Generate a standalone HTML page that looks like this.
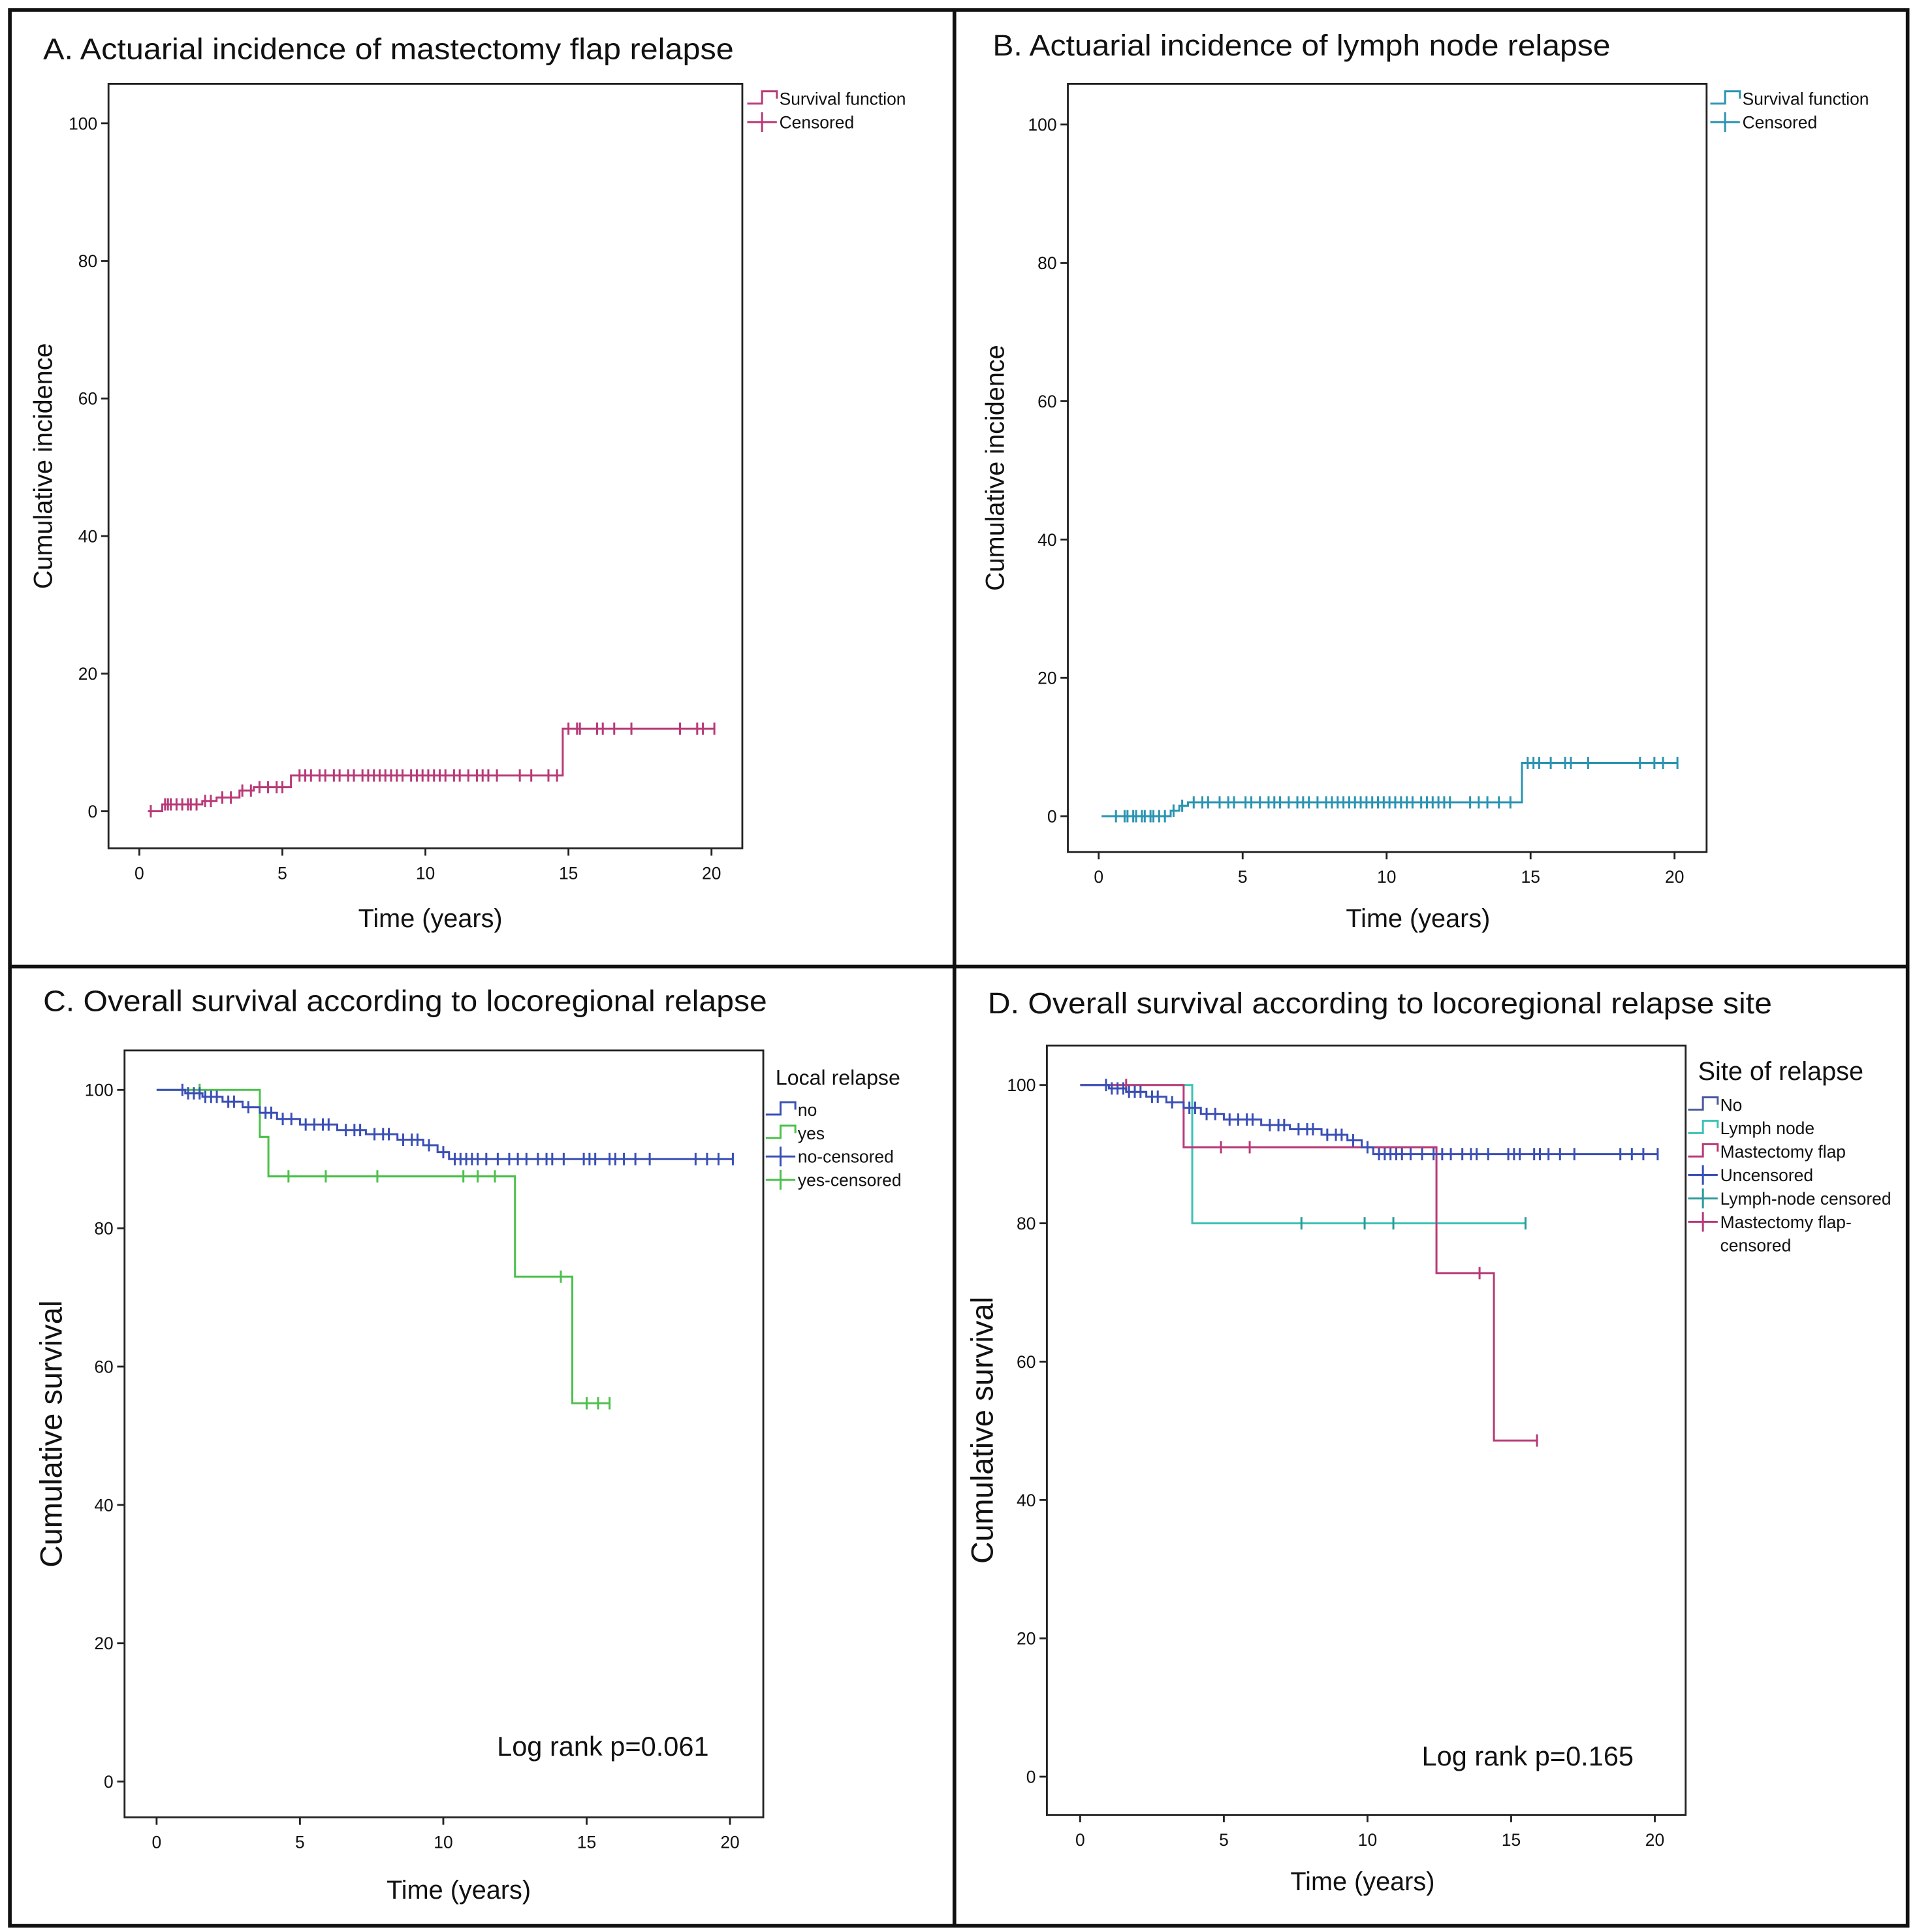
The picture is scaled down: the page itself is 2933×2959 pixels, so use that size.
<!DOCTYPE html>
<html><head><meta charset="utf-8"><style>
html,body{margin:0;padding:0;background:#fff}
svg{display:block}
text{font-family:"Liberation Sans",sans-serif;fill:#111}
</style></head><body>
<svg id="s" width="2933" height="2959" viewBox="0 0 1553 1567" preserveAspectRatio="none" xmlns="http://www.w3.org/2000/svg">
<rect x="0" y="0" width="1553" height="1567" fill="#fff"/>
<rect x="8" y="8" width="1539" height="1554" fill="none" stroke="#111" stroke-width="3"/>
<line x1="774" y1="8" x2="774" y2="1562" stroke="#111" stroke-width="3"/>
<line x1="8" y1="784" x2="1547" y2="784" stroke="#111" stroke-width="3"/>
<g id="root"></g>
</svg>
<script>
// Panel A: mastectomy flap relapse cumulative incidence
const aStepT=[0.3,0.8,1.2,2.2,2.7,3.5,4.0,5.3,14.8];
const aStepV=[0,1,1,1.5,2,3,3.5,5.2,12];
const aEnd=20.1;
const aCens=[0.4,0.9,1.0,1.1,1.3,1.5,1.7,1.8,2.0,2.3,2.5,2.9,3.2,3.6,3.9,4.2,4.5,4.8,5.0,5.6,5.8,6.0,6.3,6.5,6.8,7.0,7.3,7.5,7.8,8.0,8.2,8.4,8.6,8.8,9.0,9.2,9.5,9.7,9.9,10.1,10.3,10.5,10.7,11.0,11.2,11.5,11.8,12.0,12.2,12.5,13.3,13.7,14.3,14.6,15.0,15.3,15.4,16.0,16.2,16.6,17.2,18.9,19.5,19.7,20.1];
// Panel B: lymph node relapse
const bStepT=[0.1,2.5,2.8,3.1,14.7];
const bStepV=[0,0.8,1.5,2,7.7];
const bEnd=20.1;
const bCens=[0.6,0.9,1.0,1.2,1.3,1.5,1.6,1.8,1.9,2.1,2.3,2.6,2.9,3.3,3.6,3.8,4.2,4.5,4.7,5.1,5.3,5.6,5.9,6.1,6.3,6.6,6.9,7.1,7.3,7.6,7.9,8.1,8.3,8.5,8.7,8.9,9.1,9.3,9.5,9.7,9.9,10.1,10.3,10.5,10.7,10.9,11.2,11.4,11.6,11.8,12.0,12.2,12.9,13.2,13.5,13.9,14.3,14.9,15.1,15.3,15.7,16.2,16.4,17.0,18.8,19.3,19.6,20.1];
// Panel C: overall survival by local relapse
const cNoT=[0,1.0,1.6,2.3,3.0,3.6,4.2,5.0,6.3,7.3,8.4,9.3,9.8,10.2];
const cNoV=[100,99.5,99,98.3,97.5,96.7,95.8,95,94.2,93.6,92.8,92,91,90];
const cNoEnd=20.1;
const cNoCens=[0.9,1.1,1.3,1.5,1.7,1.9,2.1,2.5,2.7,3.2,3.8,4.0,4.4,4.7,5.2,5.5,5.8,6.0,6.6,6.9,7.1,7.6,7.9,8.1,8.6,8.9,9.1,9.5,10.0,10.4,10.6,10.8,11.0,11.2,11.5,11.9,12.3,12.6,12.9,13.3,13.6,13.8,14.2,14.9,15.1,15.3,15.8,16.0,16.3,16.7,17.2,18.8,19.2,19.6,20.1];
const cYesT=[0,3.6,3.9,12.5,14.5];
const cYesV=[100,93.2,87.5,73,54.7];
const cYesEnd=15.8;
const cYesCens=[1.5,4.6,5.9,7.7,10.7,11.2,11.8,14.1,15.0,15.4,15.8];
// Panel D: overall survival by relapse site
const dNoT=[0,1.0,1.6,2.3,3.0,3.6,4.2,5.0,6.3,7.3,8.4,9.3,9.8,10.2];
const dNoV=[100,99.5,99,98.3,97.5,96.7,95.8,95,94.2,93.6,92.8,92,91,90];
const dNoEnd=20.1;
const dNoCens=[0.9,1.1,1.3,1.5,1.7,1.9,2.1,2.5,2.7,3.2,3.8,4.0,4.4,4.7,5.2,5.5,5.8,6.0,6.6,6.9,7.1,7.6,7.9,8.1,8.6,8.9,9.1,9.5,10.0,10.4,10.6,10.8,11.0,11.2,11.5,11.9,12.3,12.6,12.9,13.3,13.6,13.8,14.2,14.9,15.1,15.3,15.8,16.0,16.3,16.7,17.2,18.8,19.2,19.6,20.1];
const dLnT=[0,3.9];
const dLnV=[100,80];
const dLnEnd=15.5;
const dLnCens=[7.7,9.9,10.9,15.5];
const dMfT=[0,3.6,12.4,14.4];
const dMfV=[100,91,72.8,48.6];
const dMfEnd=15.9;
const dMfCens=[1.6,4.9,5.9,13.9,15.9];
const xTicks=[0,5,10,15,20];
const yTicks=[0,20,40,60,80,100];

const NS='http://www.w3.org/2000/svg';
const root=document.getElementById('root');
function el(tag,attrs,parent,txt){const e=document.createElementNS(NS,tag);for(const k in attrs)e.setAttribute(k,attrs[k]);if(txt!=null)e.textContent=txt;(parent||root).appendChild(e);return e;}

function panel(cfg){
  const g=el('g',{});
  
  
  const X=t=>cfg.x0+(cfg.x20-cfg.x0)*t/20;
  const Y=v=>cfg.y0+(cfg.y100-cfg.y0)*v/100;
  const t=el('text',{x:cfg.tx,y:cfg.ty,'font-size':24,textLength:cfg.tw,lengthAdjust:'spacingAndGlyphs'},g,cfg.title);
  
  
  const box=el('rect',{x:cfg.bx,y:cfg.by,width:cfg.bw,height:cfg.bh,fill:'none',stroke:'#222','stroke-width':1.5},g);
  
  
  yTicks.forEach(v=>{
    el('line',{x1:cfg.bx-6,x2:cfg.bx,y1:Y(v),y2:Y(v),stroke:'#222','stroke-width':1.5},g);
    const l=el('text',{x:cfg.bx-9,y:Y(v)+5,'font-size':14,'text-anchor':'end'},g,String(v));
    
    
  });
  xTicks.forEach(v=>{
    el('line',{x1:X(v),x2:X(v),y1:cfg.by+cfg.bh,y2:cfg.by+cfg.bh+6,stroke:'#222','stroke-width':1.5},g);
    const l=el('text',{x:X(v),y:cfg.by+cfg.bh+25,'font-size':14,'text-anchor':'middle'},g,String(v));
    
    
  });
  const xt=el('text',{x:cfg.xtx,y:cfg.xty,'font-size':21,'text-anchor':'middle'},g,'Time (years)');
  
  
  const yt=el('text',{x:0,y:0,'font-size':cfg.ytfs,'text-anchor':'middle',transform:`translate(${cfg.ytx},${cfg.by+cfg.bh/2}) rotate(-90)`},g,cfg.ytitle);
  
  
  cfg.series.forEach(s=>{
    let d=`M${X(s.T[0])},${Y(s.V[0])}`;
    for(let i=1;i<s.T.length;i++){d+=` H${X(s.T[i])} V${Y(s.V[i])}`;}
    d+=` H${X(s.end)}`;
    const p=el('path',{d,fill:'none',stroke:s.color,'stroke-width':1.6},g);
    
    
    s.cens.forEach(c=>{
      let v=s.V[0];for(let i=0;i<s.T.length;i++)if(s.T[i]<=c)v=s.V[i];
      const m=el('line',{x1:X(c),x2:X(c),y1:Y(v)-5,y2:Y(v)+5,stroke:s.mcolor||s.color,'stroke-width':1.6},g);
      
      
    });
  });
  if(cfg.ltitle){const lt=el('text',{x:cfg.lx+8,y:cfg.ly-20,'font-size':cfg.ltfs},g,cfg.ltitle);
    }
  cfg.legend.forEach((e,i)=>{
    const y=cfg.ly+i*cfg.lsp;
    const lg=el('g',{},g);
    
    
    if(e.type==='step')el('path',{d:`M${cfg.lx},${y+4} H${cfg.lx+12} V${y-6} H${cfg.lx+24} V${y}`,fill:'none',stroke:e.color,'stroke-width':1.6},lg);
    else{el('line',{x1:cfg.lx,x2:cfg.lx+24,y1:y,y2:y,stroke:e.color,'stroke-width':1.6},lg);el('line',{x1:cfg.lx+12,x2:cfg.lx+12,y1:y-8,y2:y+8,stroke:e.color,'stroke-width':1.6},lg);}
    el('text',{x:cfg.lx+26,y:y+5,'font-size':14},lg,e.label);
    if(e.label2)el('text',{x:cfg.lx+26,y:y+24,'font-size':14},lg,e.label2);
  });
  if(cfg.note){const n=el('text',{x:cfg.nx,y:cfg.ny,'font-size':22},g,cfg.note);
    }
}
const MAG='#b83a78',TEAL='#2a94b2',BLUE='#3a4fb5',GRN='#4cc04c',CYN='#3cc2b4';
panel({name:'panel-a',title:'A. Actuarial incidence of mastectomy flap relapse',tw:560,tx:35,ty:48,bx:88,by:68,bw:514,bh:620,x0:113,x20:577,y0:658,y100:100,xtx:349,xty:752,ytx:42,ytfs:21,ytitle:'Cumulative incidence',
  series:[{name:'mastectomy-flap',T:aStepT,V:aStepV,end:aEnd,cens:aCens,color:MAG}],
  lx:606,ly:80,lsp:19,legend:[{type:'step',color:MAG,label:'Survival function'},{type:'cross',color:MAG,label:'Censored'}]});
panel({name:'panel-b',title:'B. Actuarial incidence of lymph node relapse',tw:501,tx:805,ty:45,bx:866,by:68,bw:518,bh:623,x0:891,x20:1358,y0:662,y100:101,xtx:1150,xty:752,ytx:814,ytfs:21,ytitle:'Cumulative incidence',
  series:[{name:'lymph-node',T:bStepT,V:bStepV,end:bEnd,cens:bCens,color:TEAL}],
  lx:1387,ly:80,lsp:19,legend:[{type:'step',color:TEAL,label:'Survival function'},{type:'cross',color:TEAL,label:'Censored'}]});
panel({name:'panel-c',title:'C. Overall survival according to locoregional relapse',tw:587,tx:35,ty:820,bx:101,by:852,bw:518,bh:622,x0:127,x20:592,y0:1445,y100:884,xtx:372,xty:1540,ytx:50,ytfs:25,ytitle:'Cumulative survival',
  series:[{name:'yes',T:cYesT,V:cYesV,end:cYesEnd,cens:cYesCens,color:GRN},{name:'no',T:cNoT,V:cNoV,end:cNoEnd,cens:cNoCens,color:BLUE}],
  ltitle:'Local relapse',ltfs:17,lx:621,ly:900,lsp:19,legend:[{type:'step',color:BLUE,label:'no'},{type:'step',color:GRN,label:'yes'},{type:'cross',color:BLUE,label:'no-censored'},{type:'cross',color:GRN,label:'yes-censored'}],
  note:'Log rank p=0.061',nx:403,ny:1424});
panel({name:'panel-d',title:'D. Overall survival according to locoregional relapse site',tw:636,tx:801,ty:822,bx:849,by:848,bw:518,bh:624,x0:876,x20:1342,y0:1441,y100:880,xtx:1105,xty:1533,ytx:805,ytfs:25,ytitle:'Cumulative survival',
  series:[{name:'lymph-node',T:dLnT,V:dLnV,end:dLnEnd,cens:dLnCens,color:CYN,mcolor:'#2a9a9a'},{name:'mastectomy-flap',T:dMfT,V:dMfV,end:dMfEnd,cens:dMfCens,color:MAG},{name:'no',T:dNoT,V:dNoV,end:dNoEnd,cens:dNoCens,color:BLUE}],
  ltitle:'Site of relapse',ltfs:21,lx:1369,ly:896,lsp:19,legend:[{type:'step',color:'#4a5a9a',label:'No'},{type:'step',color:CYN,label:'Lymph node'},{type:'step',color:MAG,label:'Mastectomy flap'},{type:'cross',color:BLUE,label:'Uncensored'},{type:'cross',color:'#2a9a9a',label:'Lymph-node censored'},{type:'cross',color:MAG,label:'Mastectomy flap-',label2:'censored'}],
  note:'Log rank p=0.165',nx:1153,ny:1432});
</script>
</body></html>
